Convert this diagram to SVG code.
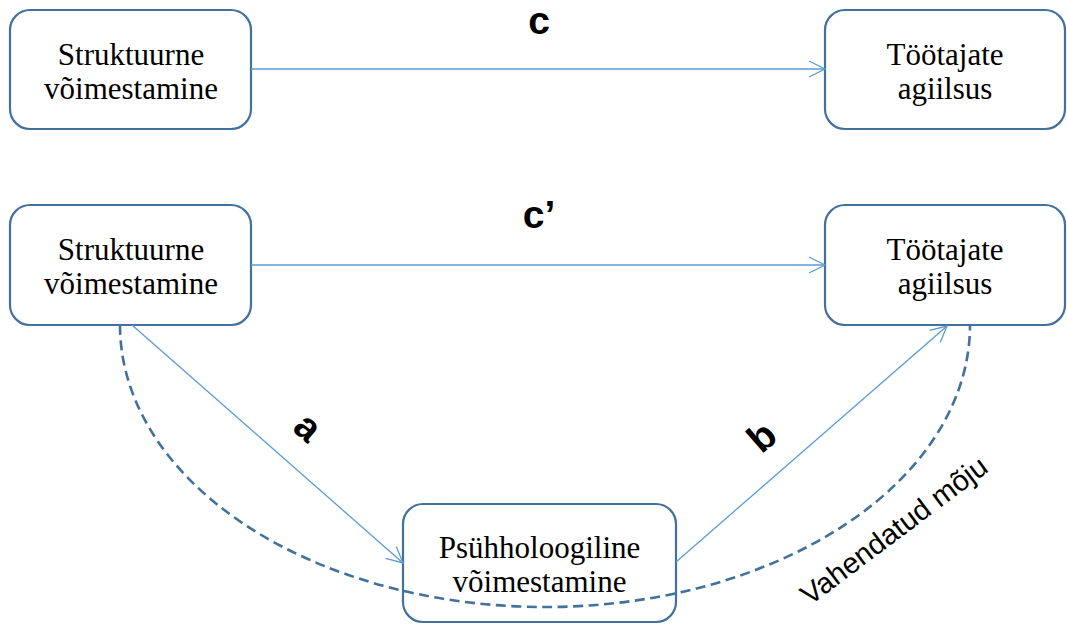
<svg xmlns="http://www.w3.org/2000/svg" width="1067" height="625" viewBox="0 0 1067 625">
  <style>
    .box { fill: #ffffff; stroke: #41719C; stroke-width: 2.2; }
    .nodetext { font-family: "Liberation Serif", "Times New Roman", serif; font-size: 31px; fill: #000000; text-anchor: middle; }
    .conn { fill: none; stroke: #5B9BD5; stroke-width: 1.3; }
    .dash { fill: none; stroke: #41719C; stroke-width: 2.6; stroke-dasharray: 10 5.5; }
    .lbl { font-family: "Liberation Sans", Arial, sans-serif; font-weight: bold; font-size: 39px; fill: #000000; text-anchor: middle; }
    .med { font-family: "Liberation Sans", Arial, sans-serif; font-size: 29px; fill: #000000; }
  </style>
  <defs>
    <marker id="arrow" markerUnits="userSpaceOnUse" markerWidth="20" markerHeight="20" refX="17" refY="9" orient="auto">
      <path d="M1,1 L17,9 L1,17" fill="none" stroke="#5B9BD5" stroke-width="1.3"/>
    </marker>
  </defs>
  <rect width="1067" height="625" fill="#ffffff"/>

  <g id="n-struct-top">
    <rect class="box" x="10" y="10" width="241" height="119" rx="20" ry="20"/>
    <text class="nodetext" x="131" y="65">Struktuurne</text>
    <text class="nodetext" x="131" y="99">võimestamine</text>
  </g>
  <g id="n-agil-top">
    <rect class="box" x="825" y="10" width="240" height="119" rx="20" ry="20"/>
    <text class="nodetext" x="945" y="65">Töötajate</text>
    <text class="nodetext" x="945" y="99">agiilsus</text>
  </g>
  <g id="n-struct-mid">
    <rect class="box" x="10" y="205" width="241" height="120" rx="20" ry="20"/>
    <text class="nodetext" x="131" y="260">Struktuurne</text>
    <text class="nodetext" x="131" y="294">võimestamine</text>
  </g>
  <g id="n-agil-mid">
    <rect class="box" x="825" y="205" width="240" height="120" rx="20" ry="20"/>
    <text class="nodetext" x="945" y="260">Töötajate</text>
    <text class="nodetext" x="945" y="294">agiilsus</text>
  </g>
  <g id="n-psych">
    <rect class="box" x="403" y="504" width="273" height="118" rx="20" ry="20"/>
    <text class="nodetext" x="539.5" y="558">Psühholoogiline</text>
    <text class="nodetext" x="539.5" y="592">võimestamine</text>
  </g>

  <g id="connectors">
    <line class="conn" x1="251" y1="69" x2="825" y2="69" marker-end="url(#arrow)"/>
    <line class="conn" x1="251" y1="265" x2="825" y2="265" marker-end="url(#arrow)"/>
    <line class="conn" x1="132" y1="325" x2="403" y2="563" marker-end="url(#arrow)"/>
    <line class="conn" x1="676" y1="562" x2="947" y2="326" marker-end="url(#arrow)"/>
    <path class="dash" d="M120,325 A425,282 0 0 0 970,325"/>
  </g>

  <g id="labels">
    <text class="lbl" x="539" y="34">c</text>
    <text class="lbl" x="539" y="228">c’</text>
    <text class="lbl" transform="translate(308,427) rotate(41)" x="0" y="13">a</text>
    <text class="lbl" transform="translate(762,437) rotate(-41)" x="0" y="13">b</text>
    <text class="med" transform="translate(810,606) rotate(-37)" x="0" y="0">Vahendatud mõju</text>
  </g>
</svg>
